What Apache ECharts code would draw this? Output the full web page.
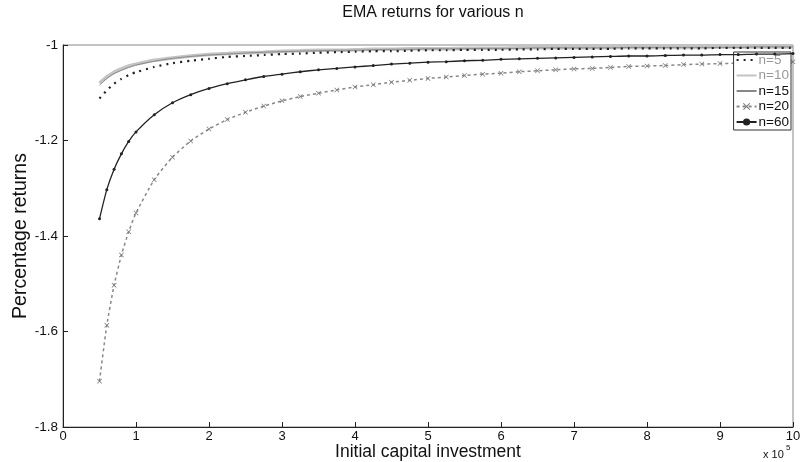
<!DOCTYPE html>
<html>
<head>
<meta charset="utf-8">
<script src="https://cdn.jsdelivr.net/npm/echarts@6/dist/echarts.min.js"></script>
<style>html,body{margin:0;padding:0;background:#fff;}#c{width:800px;height:462px;}</style>
</head>
<body>
<div id="c"></div>
<script>
// x values in units of 10^5
var xs = [0.5,0.6,0.7,0.8,0.9,1.0,1.25,1.5,1.75,2.0,2.25,2.5,2.75,3.0,3.25,3.5,3.75,4.0,4.25,4.5,4.75,5.0,5.25,5.5,5.75,6.0,6.25,6.5,6.75,7.0,7.25,7.5,7.75,8.0,8.25,8.5,8.75,9.0,9.25,9.5,9.75,10.0];

var n5 = [-1.112,-1.095,-1.081,-1.071,-1.063,-1.057,-1.046,-1.038,-1.033,-1.029,-1.025,-1.023,-1.021,-1.019,-1.018,-1.016,-1.015,-1.014,-1.013,-1.013,-1.012,-1.011,-1.011,-1.010,-1.010,-1.010,-1.009,-1.009,-1.008,-1.008,-1.008,-1.008,-1.007,-1.007,-1.007,-1.007,-1.007,-1.006,-1.006,-1.006,-1.006,-1.006];

var n10 = [-1.080,-1.067,-1.057,-1.050,-1.044,-1.040,-1.032,-1.027,-1.023,-1.020,-1.018,-1.016,-1.015,-1.013,-1.012,-1.011,-1.011,-1.010,-1.009,-1.009,-1.008,-1.008,-1.008,-1.007,-1.007,-1.007,-1.006,-1.006,-1.006,-1.006,-1.006,-1.005,-1.005,-1.005,-1.005,-1.005,-1.005,-1.004,-1.004,-1.004,-1.004,-1.004];

var n15 = [-1.084,-1.070,-1.060,-1.053,-1.047,-1.042,-1.034,-1.028,-1.024,-1.021,-1.019,-1.017,-1.015,-1.014,-1.013,-1.012,-1.011,-1.011,-1.010,-1.009,-1.009,-1.008,-1.008,-1.008,-1.007,-1.007,-1.007,-1.006,-1.006,-1.006,-1.006,-1.006,-1.005,-1.005,-1.005,-1.005,-1.005,-1.005,-1.005,-1.004,-1.004,-1.004];

var n20 = [-1.704,-1.587,-1.503,-1.440,-1.391,-1.352,-1.282,-1.235,-1.201,-1.176,-1.156,-1.141,-1.128,-1.117,-1.108,-1.101,-1.094,-1.088,-1.083,-1.078,-1.074,-1.070,-1.067,-1.064,-1.061,-1.059,-1.056,-1.054,-1.052,-1.050,-1.049,-1.047,-1.045,-1.044,-1.043,-1.041,-1.040,-1.039,-1.038,-1.037,-1.036,-1.035];

var n60 = [-1.364,-1.303,-1.260,-1.228,-1.202,-1.182,-1.146,-1.121,-1.104,-1.091,-1.081,-1.073,-1.066,-1.061,-1.056,-1.052,-1.049,-1.046,-1.043,-1.040,-1.038,-1.036,-1.035,-1.033,-1.032,-1.030,-1.029,-1.028,-1.027,-1.026,-1.025,-1.024,-1.023,-1.023,-1.022,-1.021,-1.021,-1.020,-1.020,-1.019,-1.019,-1.018];

var seriesNames = ['n=5','n=10','n=15','n=20','n=60'];
var xTicks = [0,1,2,3,4,5,6,7,8,9,10];
var yTicks = [-1.8,-1.6,-1.4,-1.2,-1];

function pairs(ys){ return xs.map(function(x,i){ return [x, ys[i]]; }); }

var FONT = 'Liberation Sans, Arial, sans-serif';
var crossPath = 'path://M0,1L1,0L5,4L9,0L10,1L6,5L10,9L9,10L5,6L1,10L0,9L4,5Z';

var chart = echarts.init(document.getElementById('c'), null, {renderer:'canvas'});
chart.setOption({
  animation: false,
  backgroundColor: '#fff',
  textStyle: {fontFamily: FONT},
  title: {
    text: 'EMA returns for various n',
    left: 428, top: 0, textAlign: 'center',
    textStyle: {fontFamily: FONT, fontSize: 16, fontWeight: 'normal', color: '#111'}
  },
  grid: {left: 63, right: 7, top: 45, bottom: 35, show: true, borderColor: '#888', borderWidth: 1,
    backgroundColor: 'transparent', outerBoundsMode: 'none', containLabel: false},
  legend: {
    orient: 'vertical', right: 9, top: 52,
    itemWidth: 20, itemHeight: 9, itemGap: 1.5,
    padding: [1, 2, 1, 2],
    backgroundColor: '#fff', borderColor: '#333', borderWidth: 1, borderRadius: 0,
    textStyle: {fontFamily: FONT, fontSize: 13.5, color: '#111', padding: [0,0,0,-3]},
    data: [
      {name: 'n=5', textStyle: {color: '#999'}, itemStyle: {opacity: 0}},
      {name: 'n=10', textStyle: {color: '#999'}, itemStyle: {opacity: 0}},
      {name: 'n=15', itemStyle: {opacity: 0}},
      {name: 'n=20'},
      {name: 'n=60'}
    ]
  },
  xAxis: {
    type: 'value', min: 0, max: 10, interval: 1,
    name: 'Initial capital investment', nameLocation: 'middle', nameGap: 16, nameMoveOverlap: false,
    nameTextStyle: {fontFamily: FONT, fontSize: 17.5, color: '#111', verticalAlign: 'top'},
    axisLine: {show: true, lineStyle: {color: '#222', width: 1}},
    axisTick: {show: true, inside: true, length: 5, lineStyle: {color: '#222'}},
    axisLabel: {margin: 3, fontFamily: FONT, fontSize: 13, color: '#111',
      customValues: xTicks, formatter: function(v){ return String(v); }},
    splitLine: {show: false}
  },
  yAxis: {
    type: 'value', min: -1.8, max: -1, interval: 0.2,
    name: 'Percentage returns', nameLocation: 'middle', nameGap: 32, nameRotate: 90, nameMoveOverlap: false,
    nameTextStyle: {fontFamily: FONT, fontSize: 19.5, color: '#111'},
    axisLine: {show: true, lineStyle: {color: '#222', width: 1}},
    axisTick: {show: true, inside: true, length: 5, lineStyle: {color: '#222'}},
    axisLabel: {margin: 5, fontFamily: FONT, fontSize: 13.5, color: '#111',
      formatter: function(v){ return String(Math.round(v*10)/10); }},
    splitLine: {show: false}
  },
  graphic: [
    {type: 'text', left: 763, top: 449, style: {text: 'x 10', font: '11px Liberation Sans, Arial, sans-serif', fill: '#111'}},
    {type: 'text', left: 786, top: 444, style: {text: '5', font: '8px Liberation Sans, Arial, sans-serif', fill: '#111'}}
  ],
  series: [
    {name: 'n=5', type: 'line', data: pairs(n5), smooth: 0.2, symbol: 'none', z: 3,
      color: '#222', lineStyle: {color: '#222', width: 2.2, type: [2, 5]}},
    {name: 'n=10', type: 'line', data: pairs(n10), smooth: 0.2, symbol: 'none', z: 2,
      color: '#c4c4c4', lineStyle: {color: '#c4c4c4', width: 3.5}},
    {name: 'n=15', type: 'line', data: pairs(n15), smooth: 0.2, symbol: 'none', z: 2,
      color: '#888', lineStyle: {color: '#888', width: 1}},
    {name: 'n=20', type: 'line', data: pairs(n20), smooth: 0.2, z: 2,
      symbol: crossPath, symbolSize: 5, showAllSymbol: true,
      color: '#777', itemStyle: {color: '#777'},
      lineStyle: {color: '#888', width: 1.5, type: [3, 3]}},
    {name: 'n=60', type: 'line', data: pairs(n60), smooth: 0.2, z: 4,
      symbol: 'circle', symbolSize: 3, showAllSymbol: true,
      color: '#222', itemStyle: {color: '#222'},
      lineStyle: {color: '#222', width: 1.3}}
  ]
});
</script>
</body>
</html>
